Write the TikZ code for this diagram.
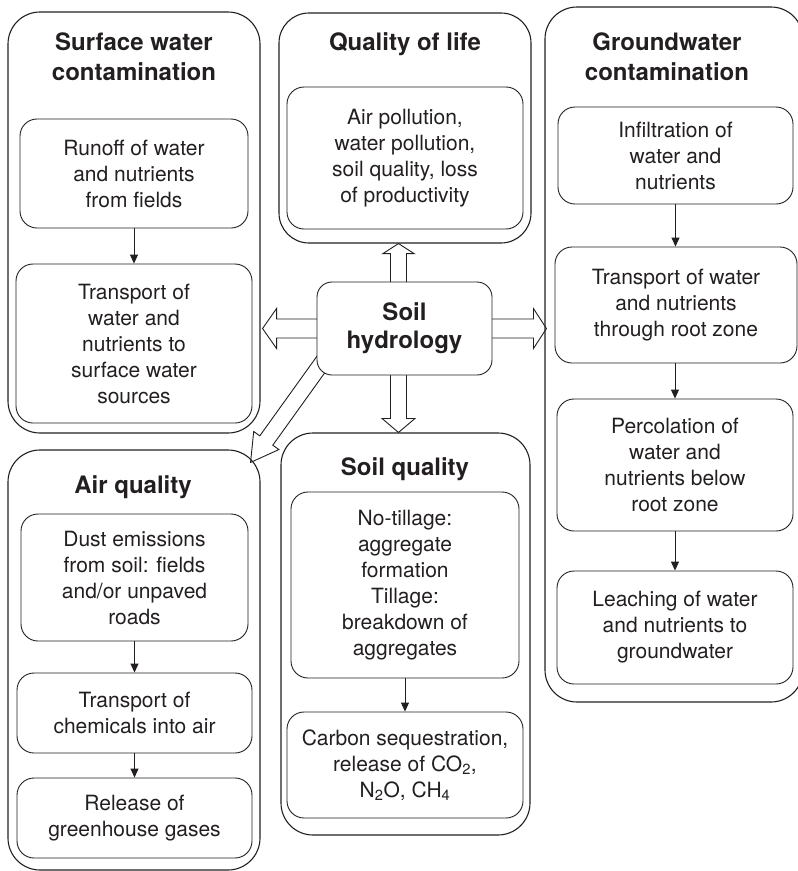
\documentclass[tikz,border=0pt]{standalone}
\usepackage{fontspec}
\setmainfont{TeX Gyre Heros}
\usetikzlibrary{calc,arrows.meta,backgrounds}
\definecolor{ink}{RGB}{35,31,32}
\newcommand\blockarr[5]{%
  \coordinate (baS) at (#1);
  \coordinate (baE) at (#2);
  \coordinate (baH) at ($(baE)!#5pt!(baS)$);
  \draw[barrow] ($(baS)!#3pt!90:(baE)$) -- ($(baH)!#3pt!90:(baE)$) -- ($(baH)!#4pt!90:(baE)$) -- (baE)
     -- ($(baH)!#4pt!-90:(baE)$) -- ($(baH)!#3pt!-90:(baE)$) -- ($(baS)!#3pt!-90:(baE)$) -- cycle;
}
\begin{document}
\begin{tikzpicture}[x=1pt,y=-1pt,
  outbox/.style={draw=ink, line width=1.1pt, rounded corners=32pt, inner sep=0pt},
  inbox/.style={draw=ink, line width=0.9pt, rounded corners=17pt, align=center, inner sep=0pt,
                font=\fontsize{21}{26}\selectfont, text=ink},
  ttl/.style={align=center, inner sep=0pt, font=\bfseries\fontsize{24}{30}\selectfont, text=ink},
  sarr/.style={-{Triangle[length=9pt,width=8pt]}, line width=0.9pt, draw=ink},
  barrow/.style={draw=ink, fill=white, line width=0.9pt, line join=miter}]
\clip (0,0) rectangle (798,871);
% outer boxes
\node[outbox, minimum width=252pt, minimum height=421pt] (sw) at (134,222.5) {};
\node[outbox, minimum width=252pt, minimum height=230pt, rounded corners=30pt] (qol) at (405,128) {};
\node[outbox, minimum width=258pt, minimum height=695pt] (gw) at (674,354.5) {};
\node[outbox, minimum width=252pt, minimum height=420pt] (aq) at (134,660) {};
\node[outbox, minimum width=249pt, minimum height=402pt] (sq) at (405.5,634) {};
% titles
\node[ttl] (swt) at (134,57) {Surface water\\contamination};
\node[ttl] (qolt) at (405,44) {Quality of life};
\node[ttl] (gwt) at (667,57) {Groundwater\\contamination};
\node[ttl] (aqt) at (133,487) {Air quality};
\node[ttl] (sqt) at (405,469) {Soil quality};
% inner boxes
\node[inbox, minimum width=228pt, minimum height=109pt] (sw1) at (134,173.5) {Runoff of water\\and nutrients\\from fields};
\node[inbox, minimum width=236pt, minimum height=159pt] (sw2) at (134,343.5) {Transport of\\water and\\nutrients to\\surface water\\sources};
\node[inbox, minimum width=236pt, minimum height=142pt] (qol1) at (405,158) {Air pollution,\\water pollution,\\soil quality, loss\\of productivity};
\node[inbox, minimum width=235pt, minimum height=97pt] (gw1) at (675.5,155.5) {Infiltration of\\water and\\nutrients};
\node[inbox, minimum width=242pt, minimum height=116pt] (gw2) at (676,305) {Transport of water\\and nutrients\\through root zone};
\node[inbox, minimum width=236pt, minimum height=132pt] (gw3) at (675,465) {Percolation of\\water and\\nutrients below\\root zone};
\node[inbox, minimum width=236pt, minimum height=113pt] (gw4) at (675,627.5) {Leaching of water\\and nutrients to\\groundwater};
\node[inbox, minimum width=227pt, minimum height=127pt] (aq1) at (134.5,577.5) {Dust emissions\\from soil: fields\\and/or unpaved\\roads};
\node[inbox, minimum width=235pt, minimum height=80pt] (aq2) at (134.5,713) {Transport of\\chemicals into air};
\node[inbox, minimum width=235pt, minimum height=80pt] (aq3) at (134.5,818) {Release of\\greenhouse gases};
\node[inbox, minimum width=228pt, minimum height=186pt] (sq1) at (405,585) {No-tillage:\\aggregate\\formation\\Tillage:\\breakdown of\\aggregates};
\node[inbox, minimum width=236pt, minimum height=106pt] (sq2) at (405,765) {Carbon sequestration,\\release of CO\textsubscript{2},\\N\textsubscript{2}O, CH\textsubscript{4}};
% central node
\node[inbox, fill=white, rounded corners=15pt, minimum width=175pt, minimum height=93pt,
      font=\bfseries\fontsize{24}{28}\selectfont] (hyd) at (404.5,328.5) {Soil\\hydrology};
% small arrows
\draw[sarr] (sw1.south) -- (sw1.south |- sw2.north);
\draw[sarr] (gw1.south) -- (gw1.south |- gw2.north);
\draw[sarr] (gw3.north |- gw2.south) -- (gw3.north);
\draw[sarr] (gw4.north |- gw3.south) -- (gw4.north);
\draw[sarr] (aq1.south) -- (aq1.south |- aq2.north);
\draw[sarr] (aq2.south) -- (aq2.south |- aq3.north);
\draw[sarr] (sq1.south) -- (sq1.south |- sq2.north);
% block arrows
\begin{pgfonlayer}{background}
\coordinate (hx) at ($(hyd.center)+(-6,0)$);
\blockarr{hyd.center}{$(sw.east |- hyd.center)+(2,0)$}{9.5}{20}{14}
\blockarr{hyd.center}{$(gw.west |- hyd.center)+(2,0)$}{9.5}{20}{13}
\blockarr{hx}{hx |- qol.south}{8}{15.5}{10}
\blockarr{hx}{hx |- sq.north}{8}{16.5}{14}
\blockarr{$(hyd.south west)+(9,-17.5)$}{$(aq.north east)+(-10,13)$}{8}{15.5}{27}
\end{pgfonlayer}
\end{tikzpicture}
\end{document}
